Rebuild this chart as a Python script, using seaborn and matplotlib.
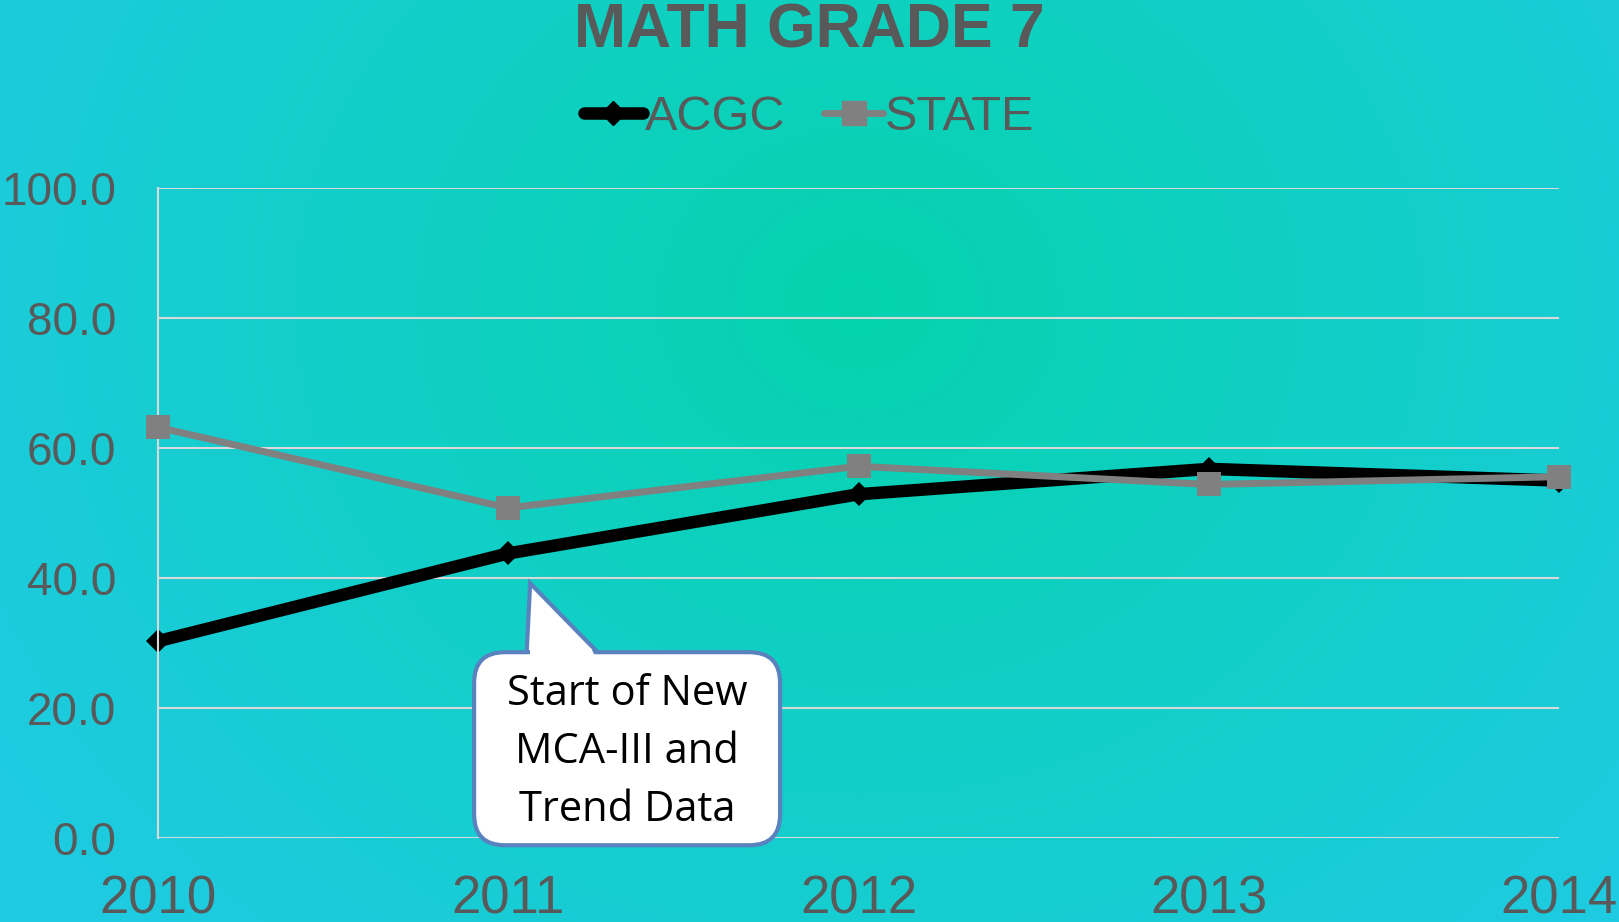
import numpy as np
import pandas as pd
import seaborn as sns
import matplotlib.pyplot as plt
from matplotlib.patches import FancyBboxPatch, Polygon
from matplotlib.lines import Line2D

# data
years = [2010, 2011, 2012, 2013, 2014]
acgc = [30.3, 43.8, 52.9, 56.8, 55.0]
state = [63.2, 50.8, 57.2, 54.4, 55.6]

sns.set_theme(style="white")
plt.rcParams['font.family'] = ['Liberation Sans', 'DejaVu Sans']
grey_txt = '#595959'

fig = plt.figure(figsize=(16.19, 9.22), dpi=100)

# radial gradient background
bg = fig.add_axes([0, 0, 1, 1], zorder=-10)
yy, xx = np.mgrid[0:1:400j, 0:1:700j]
d = np.sqrt(((xx - 0.53) / 0.62) ** 2 + ((yy - 0.33) / 0.95) ** 2)
d = np.clip(d, 0, 1)[..., None]
c_in = np.array([5, 211, 173]) / 255
c_out = np.array([30, 203, 225]) / 255
img = c_in * (1 - d) + c_out * d
bg.imshow(img, aspect='auto', extent=[0, 1, 1, 0])
bg.axis('off')

ax = fig.add_axes([0.0976, 0.091, 0.8654, 0.705])
ax.patch.set_alpha(0)

df = pd.DataFrame({'year': years, 'ACGC': acgc, 'STATE': state})
sns.lineplot(data=df, x='year', y='STATE', ax=ax, color='#808080', linewidth=5,
             marker='s', markersize=17, markeredgewidth=0, clip_on=False, zorder=3)
sns.lineplot(data=df, x='year', y='ACGC', ax=ax, color='black', linewidth=9,
             marker='D', markersize=12, markeredgewidth=0, clip_on=False, zorder=2)

ax.set_xlim(2010, 2014)
ax.set_ylim(0, 100)
ax.set_yticks(np.arange(0, 101, 20))
ax.set_yticklabels([f'{v:.1f}' for v in np.arange(0, 101, 20)])
ax.set_xticks(years)
ax.set_xticklabels([str(y) for y in years])
ax.set_xlabel('')
ax.set_ylabel('')
ax.grid(axis='y', color='#D9D9D9', linewidth=1.5)
ax.grid(axis='x', visible=False)
for s in ['top', 'right', 'bottom']:
    ax.spines[s].set_visible(False)
ax.spines['left'].set_color('#D9D9D9')
ax.spines['left'].set_linewidth(1.5)
ax.tick_params(axis='y', labelsize=33, labelcolor=grey_txt, length=0, pad=30)
ax.tick_params(axis='x', labelsize=38, labelcolor=grey_txt, length=0, pad=26)

fig.text(0.5, 0.966, 'MATH GRADE 7', ha='center', va='center', fontsize=45,
         fontweight='bold', color=grey_txt)

handles = [Line2D([], [], color='black', linewidth=9, marker='D', markersize=12),
           Line2D([], [], color='#808080', linewidth=5, marker='s', markersize=17)]
fig.legend(handles, ['ACGC', 'STATE'], loc='center', bbox_to_anchor=(0.5, 0.873),
           ncol=2, frameon=False, fontsize=35, labelcolor=grey_txt,
           handlelength=1.2, handletextpad=0.05, columnspacing=0.8)

# callout
blue = '#5A82BE'
asp = (0.8654 * 1619) / (0.705 * 922)
x0, x1, y0, y1 = 0.2256, 0.444, -0.011, 0.286
tip = [(0.2656, 0.392), (0.263, y1 - 0.005), (0.316, y1 - 0.005)]
ax.add_patch(Polygon(tip, closed=True, facecolor='white', edgecolor=blue,
                     linewidth=3, transform=ax.transAxes, clip_on=False, zorder=5))
ax.add_patch(FancyBboxPatch((x0, y0), x1 - x0, y1 - y0,
                            boxstyle='round,pad=0,rounding_size=0.022',
                            mutation_aspect=asp, facecolor='white', edgecolor=blue,
                            linewidth=3, transform=ax.transAxes, clip_on=False, zorder=6))
ax.add_patch(Polygon([(0.2655, y1 + 0.006), (0.2655, y1 - 0.01), (0.313, y1 - 0.01),
                      (0.309, y1 + 0.006)], closed=True, facecolor='white',
                     edgecolor='none', transform=ax.transAxes, clip_on=False, zorder=7))
ax.text((x0 + x1) / 2, 0.133, 'Start of New\nMCA-III and\nTrend Data',
        transform=ax.transAxes, ha='center', va='center', fontsize=30,
        family=['Open Sans', 'DejaVu Sans'], color='black', linespacing=1.5, zorder=8)

fig.savefig('out.png', dpi=100)
